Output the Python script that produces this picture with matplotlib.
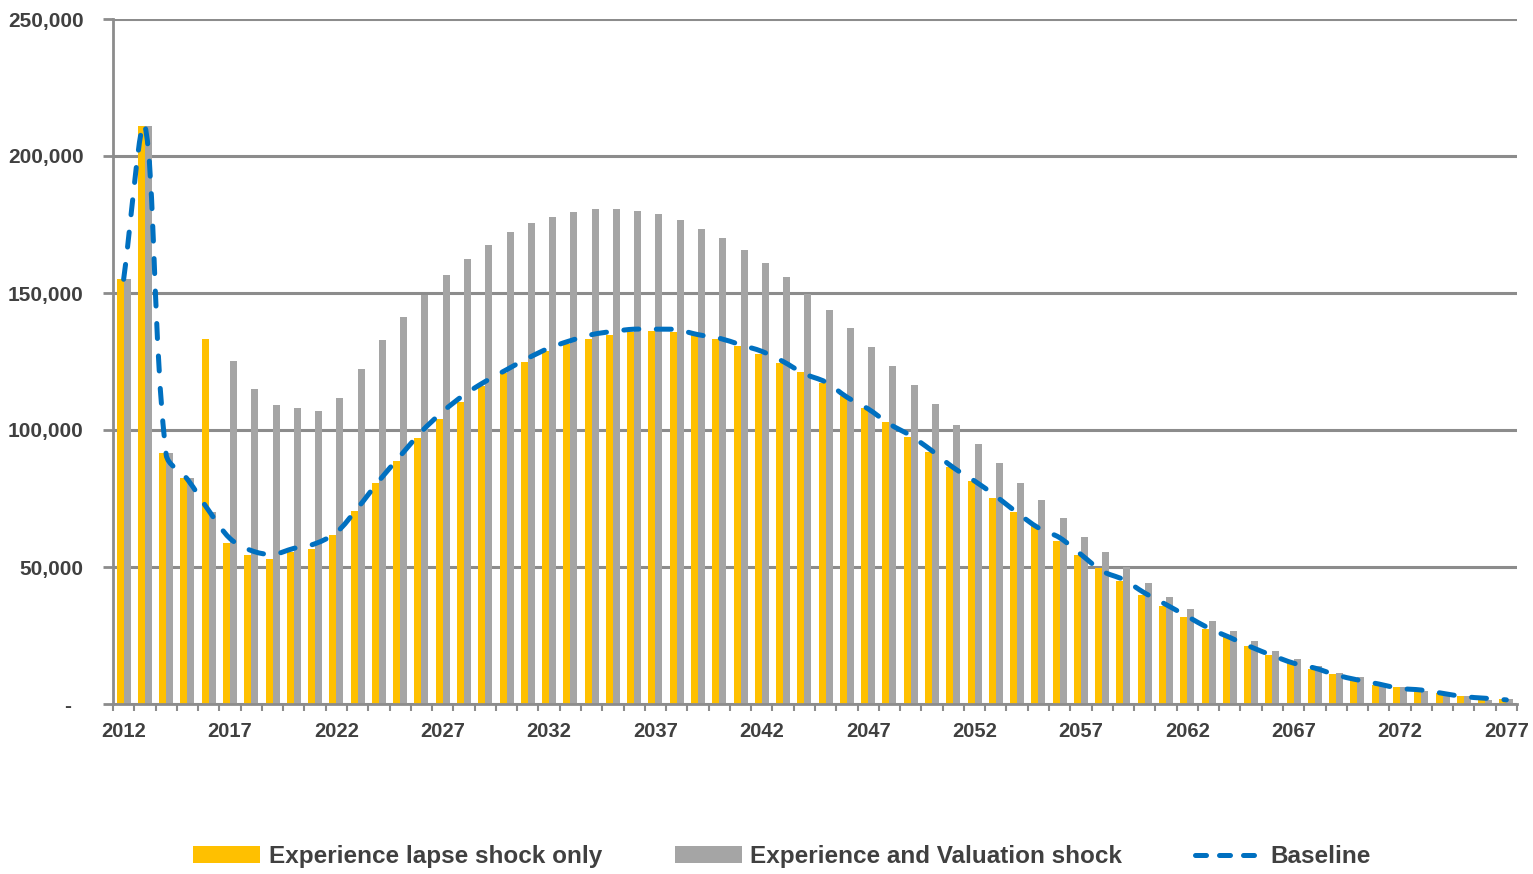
import matplotlib.pyplot as plt
import numpy as np
from matplotlib.ticker import FixedLocator, FuncFormatter
from matplotlib.path import Path
from matplotlib.patches import PathPatch
from matplotlib.lines import Line2D

plt.rcParams['font.family'] = ['Liberation Sans', 'DejaVu Sans']
plt.rcParams['font.weight'] = 'bold'

years = list(range(2012, 2078))

lapse_only = [155000, 211000, 91600, 82600, 133200, 58700, 54300, 52900, 55400, 56400,
              61600, 70600, 80700, 88700, 96900, 104100, 110400, 115900, 120700, 125000,
              128700, 131500, 133300, 134800, 135700, 136200, 135700, 134800, 133200, 130500,
              127700, 124400, 121000, 117300, 112400, 108100, 102800, 97300, 92100, 86600,
              81400, 75300, 70100, 65000, 59500, 54200, 49500, 44800, 39900, 35800,
              31700, 27500, 24700, 21300, 18000, 15800, 12800, 11000, 9200, 7000,
              6200, 4500, 3900, 3100, 1500, 1700]

exp_valuation = [155000, 211000, 91600, 82600, 69900, 125100, 114900, 109300, 108000, 106800,
                 111600, 122300, 132800, 141400, 149300, 156500, 162400, 167700, 172200, 175400,
                 177800, 179600, 180500, 180500, 180100, 178700, 176500, 173500, 169900, 165600,
                 161000, 155700, 149800, 143900, 137300, 130300, 123300, 116400, 109400, 101800,
                 94900, 87800, 80800, 74400, 67800, 61100, 55400, 49900, 44200, 39100,
                 34500, 30200, 26500, 22900, 19200, 16500, 13900, 11200, 9700, 6700,
                 6200, 4900, 3700, 2900, 1500, 1700]

baseline = [155000, 211000, 91000, 82000, 70600, 60400, 56000, 54600, 56800, 58500,
            62600, 71500, 81400, 90500, 99400, 106700, 112800, 117700, 122000, 126200,
            129900, 132600, 134800, 136000, 136800, 136800, 136600, 134800, 133500, 131100,
            128700, 125000, 120500, 117500, 112000, 107700, 102200, 97900, 92400, 86300,
            81400, 75900, 69800, 64300, 60700, 54600, 48500, 45400, 40500, 36300,
            32000, 27700, 24300, 20800, 17700, 14900, 13100, 10600, 8800, 7300,
            5700, 5100, 3900, 2700, 2100, 1500]

orange = '#FFC000'
grey = '#A5A5A5'
blue = '#0070C0'
text_col = '#404040'
axis_col = '#8C8C8C'


def smooth_path(xs, ys, sx, sy):
    # Excel-like smoothed line: tangents weighted by on-screen segment lengths
    pts = np.column_stack([xs, ys]).astype(float)
    scr = pts * [sx, sy]
    n = len(pts)
    fwd, bwd = [], []
    for i in range(n):
        pa = scr[max(i - 1, 0)]
        pb = scr[min(i + 1, n - 1)]
        d1 = np.hypot(*(scr[i] - pa))
        d2 = np.hypot(*(scr[i] - pb))
        tot = d1 + d2 if d1 + d2 > 0 else 1.0
        t = pb - pa
        fwd.append(scr[i] + t * d2 / tot / 3)
        bwd.append(scr[i] - t * d1 / tot / 3)
    verts = [scr[0]]
    codes = [Path.MOVETO]
    for i in range(n - 1):
        verts += [fwd[i], bwd[i + 1], scr[i + 1]]
        codes += [Path.CURVE4] * 3
    verts = np.array(verts) / [sx, sy]
    return Path(verts, codes)


fig = plt.figure(figsize=(15.33, 8.74), dpi=100)
ax = fig.add_axes([113 / 1533, 1 - 704 / 874, (1517 - 113) / 1533, (704 - 19) / 874])

x = np.arange(len(years))
w = 0.33
b1 = ax.bar(x - w / 2, lapse_only, width=w, color=orange, zorder=2)
b2 = ax.bar(x + w / 2, exp_valuation, width=w, color=grey, zorder=2)

px_per_x = (1517 - 113) / len(years)
px_per_y = (704 - 19) / 250000
patch = PathPatch(smooth_path(x, baseline, px_per_x, px_per_y), fill=False, edgecolor=blue,
                  linewidth=3.6, linestyle=(0, (3, 3.5)), capstyle='round', zorder=3)
ax.add_patch(patch)
base_handle = Line2D([], [], color=blue, lw=3.6, dashes=(2.2, 2.6), dash_capstyle='round')

ax.set_xlim(-0.5, len(years) - 0.5)
ax.set_ylim(0, 250000)

ax.yaxis.set_major_locator(FixedLocator(np.arange(0, 250001, 50000)))
ax.yaxis.set_major_formatter(FuncFormatter(lambda v, p: '-  ' if v == 0 else f'{int(v):,}'))
ax.grid(axis='y', color=axis_col, lw=2.2, zorder=0)
ax.set_axisbelow(True)

label_idx = [i for i, yr in enumerate(years) if (yr - 2012) % 5 == 0]
ax.set_xticks(label_idx)
ax.set_xticklabels([str(years[i]) for i in label_idx])
ax.set_xticks(np.arange(-0.5, len(years)), minor=True)
ax.tick_params(axis='x', which='major', length=0, pad=13, labelsize=14.5, labelcolor=text_col)
ax.tick_params(axis='x', which='minor', length=5, width=1.5, color=axis_col)
ax.tick_params(axis='y', which='major', length=7, width=2, color=axis_col, pad=14,
               labelsize=15, labelcolor=text_col)

for s in ['top', 'right']:
    ax.spines[s].set_visible(False)
for s in ['left', 'bottom']:
    ax.spines[s].set_color(axis_col)
    ax.spines[s].set_linewidth(2)

leg = fig.legend([b1, b2, base_handle],
                 ['Experience lapse shock only', 'Experience and Valuation shock', 'Baseline'],
                 loc='center', bbox_to_anchor=(782 / 1533, 0.02), ncol=3,
                 frameon=False, fontsize=17.5, handlelength=2.75, handleheight=0.65,
                 handletextpad=0.35, columnspacing=3.0)
for t in leg.get_texts():
    t.set_color(text_col)

fig.savefig('out.png', dpi=100)
